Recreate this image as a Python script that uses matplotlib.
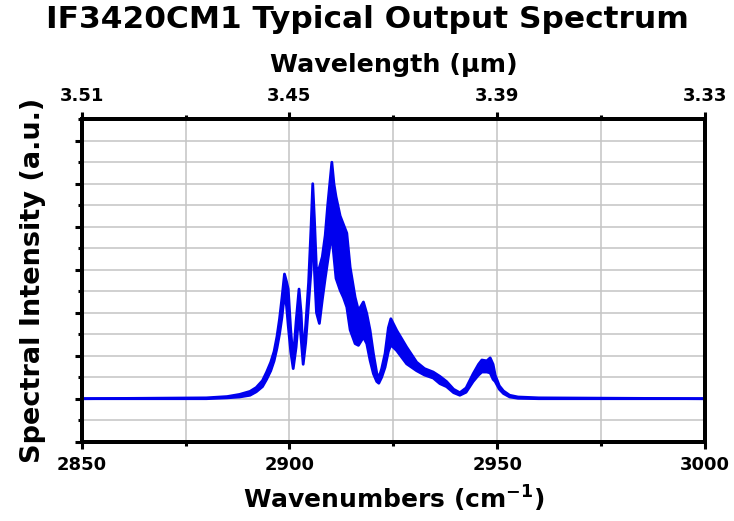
import numpy as np
import matplotlib
matplotlib.use("Agg")
import matplotlib.pyplot as plt
from matplotlib.ticker import MultipleLocator, NullFormatter

plt.rcParams['font.family'] = ['DejaVu Sans']
plt.rcParams['font.weight'] = 'bold'
plt.rcParams['mathtext.fontset'] = 'dejavusans'
plt.rcParams['mathtext.default'] = 'bf'

# spectrum envelope (wavenumber, upper, lower), a.u.
wavenumber = [2850, 2880, 2885, 2888, 2890.5, 2892, 2893.5, 2894.5, 2895.5, 2896.3,
              2897.0, 2897.6, 2898.2, 2898.8, 2899.3, 2899.7, 2900.3, 2900.9, 2901.6, 2902.3,
              2902.8, 2903.3, 2903.9, 2904.6, 2905.2, 2905.6, 2906.0, 2906.5, 2907.2, 2907.9,
              2908.6, 2909.2, 2909.8, 2910.2, 2910.7, 2911.2, 2912.2, 2913.0, 2913.8, 2914.6,
              2915.8, 2916.6, 2917.8, 2918.6, 2919.4, 2920.2, 2921.0, 2921.5, 2922.2, 2923.0,
              2923.8, 2924.4, 2925.8, 2928.2, 2930.6, 2932.5, 2934.6, 2936.2, 2937.8, 2939.5,
              2941.0, 2942.5, 2944.2, 2945.5, 2946.3, 2947.5, 2948.3, 2949.0, 2949.5, 2950.5,
              2951.5, 2953.0, 2955.0, 2960, 3000]
upper = [0.0, 0.002, 0.005, 0.010, 0.017, 0.026, 0.042, 0.062, 0.085, 0.110,
         0.145, 0.185, 0.235, 0.290, 0.272, 0.255, 0.160, 0.090, 0.180, 0.255,
         0.200, 0.100, 0.170, 0.270, 0.400, 0.500, 0.420, 0.300, 0.305, 0.330,
         0.380, 0.450, 0.510, 0.550, 0.500, 0.470, 0.425, 0.405, 0.385, 0.306,
         0.236, 0.205, 0.225, 0.198, 0.159, 0.105, 0.060, 0.048, 0.070, 0.105,
         0.165, 0.186, 0.159, 0.120, 0.085, 0.070, 0.062, 0.052, 0.040, 0.022,
         0.014, 0.025, 0.058, 0.080, 0.090, 0.088, 0.095, 0.080, 0.055, 0.030,
         0.018, 0.008, 0.004, 0.002, 0.0]
lower = [0.0, 0.000, 0.002, 0.004, 0.008, 0.016, 0.028, 0.045, 0.065, 0.088,
         0.118, 0.150, 0.190, 0.245, 0.215, 0.170, 0.110, 0.070, 0.120, 0.200,
         0.140, 0.080, 0.130, 0.220, 0.300, 0.420, 0.300, 0.200, 0.175, 0.230,
         0.280, 0.320, 0.360, 0.380, 0.330, 0.280, 0.252, 0.235, 0.213, 0.160,
         0.128, 0.124, 0.143, 0.128, 0.089, 0.058, 0.040, 0.036, 0.050, 0.073,
         0.110, 0.125, 0.112, 0.081, 0.065, 0.055, 0.048, 0.035, 0.028, 0.014,
         0.008, 0.015, 0.040, 0.055, 0.062, 0.062, 0.060, 0.045, 0.040, 0.022,
         0.012, 0.004, 0.001, 0.0, 0.0]

wn_ticks = [2850, 2900, 2950, 3000]
wl_labels = ['3.51', '3.45', '3.39', '3.33']

fig = plt.figure(figsize=(7.34, 5.21), dpi=100)
ax = fig.add_axes([0.1113, 0.1522, 0.8492, 0.619])

blue = '#0000ee'
ax.fill_between(wavenumber, lower, upper, color=blue, lw=0, zorder=3)
ax.plot(wavenumber, upper, color=blue, lw=2, zorder=3)
ax.plot(wavenumber, lower, color=blue, lw=2, zorder=3)

ax.set_xlim(2850, 3000)
ax.set_ylim(-0.1, 0.65)
ax.set_xticks(wn_ticks)
ax.xaxis.set_minor_locator(MultipleLocator(25))
ax.yaxis.set_major_locator(MultipleLocator(0.1))
ax.yaxis.set_minor_locator(MultipleLocator(0.05))
ax.yaxis.set_major_formatter(NullFormatter())
ax.grid(True, which='both', color='#c4c4c4', lw=1.1, zorder=0)
ax.set_axisbelow(True)

for s in ax.spines.values():
    s.set_linewidth(2.8)
ax.tick_params(which='major', direction='out', length=5, width=2.2,
               labelsize=13, pad=5, right=False)
ax.tick_params(which='minor', direction='out', length=3, width=2.2, right=False)

ax.set_xlabel('Wavenumbers (cm$^{-1}$)', fontsize=18, fontweight='bold', labelpad=7)
ax.set_ylabel('Spectral Intensity (a.u.)', fontsize=19.5, fontweight='bold', labelpad=16)

ax2 = ax.twiny()
ax2.set_xlim(ax.get_xlim())
ax2.set_xticks(wn_ticks)
ax2.set_xticklabels(wl_labels)
ax2.xaxis.set_minor_locator(MultipleLocator(25))
ax2.tick_params(which='major', direction='out', length=5, width=2.2, labelsize=13, pad=5)
ax2.tick_params(which='minor', direction='out', length=3, width=2.2)
for s in ax2.spines.values():
    s.set_linewidth(2.8)
ax2.set_xlabel('Wavelength (µm)', fontsize=18.3, fontweight='bold', labelpad=11)

fig.text(0.5, 1 - 19 / 521, 'IF3420CM1 Typical Output Spectrum', ha='center', va='center',
         fontsize=22.5, fontweight='bold')

fig.savefig('out.png', dpi=100)
